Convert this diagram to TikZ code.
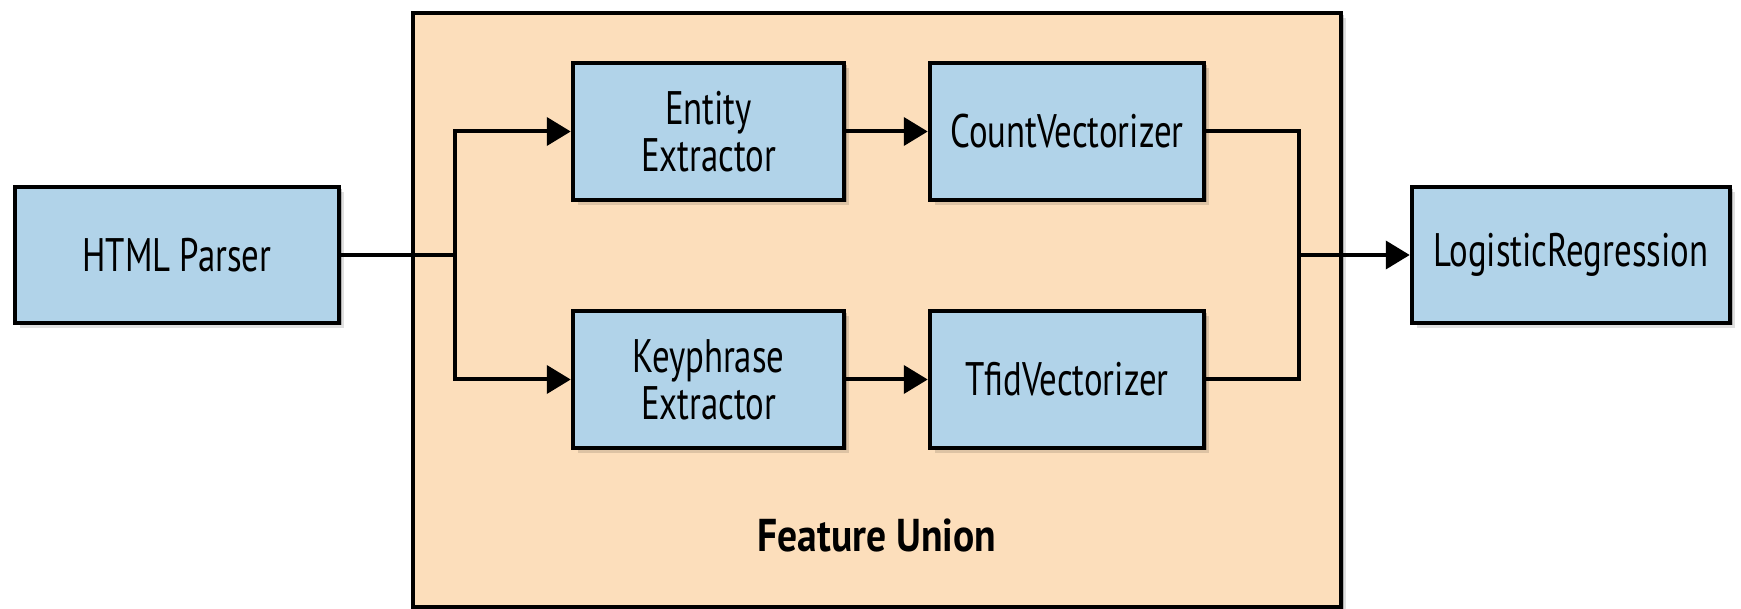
\documentclass[tikz,border=0pt]{standalone}
\usepackage{fontspec}
\setmainfont[FakeStretch=0.74]{PT Sans}
\newfontfamily\unionfont[FakeStretch=0.86]{PT Sans}
\usetikzlibrary{arrows.meta,shadows}
\definecolor{boxblue}{RGB}{177,211,233}
\definecolor{peach}{RGB}{252,222,187}
\tikzset{
  softshadow/.style={
    drop shadow={shadow xshift=2.5pt,shadow yshift=-2.5pt,opacity=0.22,fill=black},
    drop shadow={shadow xshift=5pt,shadow yshift=-5pt,opacity=0.12,fill=black}},
  stepbox/.style={draw=black,line width=4.5pt,fill=boxblue,rectangle,inner sep=0pt,
    align=center,font=\fontsize{47}{47}\selectfont,softshadow},
  unionbox/.style={draw=black,line width=4.5pt,fill=peach,rectangle,inner sep=0pt,softshadow},
  conn/.style={draw=black,line width=4pt},
  arr/.style={conn,-{Triangle[length=24pt,width=28pt]}}
}
\begin{document}
\begin{tikzpicture}[x=1pt,y=-1pt]
\useasboundingbox (0,0) rectangle (1741,609);
\node[unionbox,minimum width=928pt,minimum height=594pt] (fu) at (877,310) {};
\node[font=\unionfont\fontsize{46}{47}\selectfont\bfseries] (ful) at (877,535) {Feature Union};
\node[stepbox,minimum width=324pt,minimum height=136pt] (html) at (177,255) {HTML Parser};
\node[stepbox,minimum width=271pt,minimum height=137pt] (ent) at (708.5,131.5) {Entity\\Extractor};
\node[stepbox,minimum width=274pt,minimum height=137pt] (cnt) at (1067,131.5) {CountVectorizer};
\node[stepbox,minimum width=271pt,minimum height=137pt] (key) at (708.5,379.5) {Keyphrase\\Extractor};
\node[stepbox,minimum width=274pt,minimum height=137pt] (tfid) at (1067,379.5) {TfidVectorizer};
\node[stepbox,minimum width=318pt,minimum height=136pt] (lr) at (1571,255) {LogisticRegression};
\coordinate (sp) at (455,255);
\coordinate (mg) at (1299,255);
\draw[conn] (html) -- (sp);
\draw[arr] (sp) |- (ent);
\draw[arr] (sp) |- (key);
\draw[arr] (ent) -- (cnt);
\draw[arr] (key) -- (tfid);
\draw[conn] (cnt) -| (mg);
\draw[conn] (tfid) -| (mg);
\draw[arr] (mg) -- (lr);
\end{tikzpicture}
\end{document}
